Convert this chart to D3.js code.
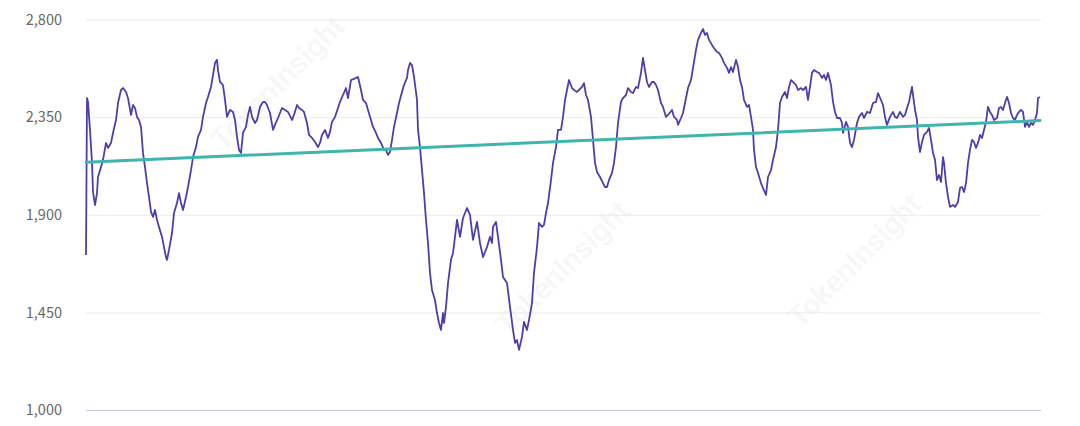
<!DOCTYPE html>
<html>
<head>
<meta charset="utf-8">
<script src="https://cdn.jsdelivr.net/npm/d3@7"></script>
<style>
  html, body { margin: 0; padding: 0; background: #fff; }
  svg { display: block; }
</style>
</head>
<body>
<svg id="chart" width="1080" height="426"></svg>
<script>
// ---- data ----
const days = [0,1,2,4,6,7,9,11,12,15,17,20,22,25,27,30,32,35,37,40,42,45,47,49,51,53,55,57,59,61,63,65,67,69,71,73,76,78,80,81,83,86,88,91,93,95,97,100,102,105,107,110,112,115,117,120,122,125,127,129,131,132,134,137,139,141,144,147,149,151,153,155,157,160,162,164,166,169,171,174,177,179,181,184,187,189,192,196,199,202,206,208,211,213,216,218,221,223,226,229,232,234,236,239,242,244,246,249,252,254,257,260,262,265,268,270,272,275,277,280,282,285,287,290,292,295,298,300,302,304,306,308,311,313,316,318,321,322,324,326,328,331,332,334,336,338,340,342,344,346,349,351,353,355,357,358,360,362,365,367,369,371,374,377,381,384,387,391,394,397,401,404,406,407,410,412,415,417,421,424,427,429,431,433,436,438,441,443,446,448,451,453,456,458,460,462,465,467,470,472,475,477,479,481,483,486,488,491,493,496,498,500,502,505,507,509,511,514,517,519,521,523,526,528,530,532,535,537,540,542,545,547,550,552,555,557,559,561,563,566,568,570,572,575,577,580,582,586,588,591,592,595,597,600,602,605,607,610,612,615,617,619,621,623,626,628,631,633,636,638,641,643,645,647,650,652,654,656,658,661,663,665,667,668,670,672,675,677,680,682,685,687,690,692,694,696,699,701,703,705,707,710,712,715,717,720,722,724,726,728,731,733,736,738,740,742,745,747,749,751,754,756,757,760,762,764,766,768,771,773,776,778,781,784,787,790,792,795,797,799,801,804,807,809,811,814,817,819,821,823,826,827,829,831,832,834,836,838,841,843,845,847,849,851,853,855,857,858,860,862,864,867,869,872,874,876,878,880,882,884,886,888,890,892,894,896,898,900,902,904,906,908,911,913,915,917,919,921,923,925,927,929,931,933,935,937,939,941,943,945,947,949,951,952,954];
const prices = [1715,2438,2420,2291,2139,2005,1945,2000,2074,2120,2153,2231,2208,2231,2277,2337,2415,2475,2484,2466,2438,2360,2406,2392,2351,2337,2305,2185,2120,2046,1982,1913,1890,1922,1876,1844,1798,1751,1705,1692,1738,1816,1908,1954,2000,1954,1922,1982,2028,2106,2166,2212,2259,2291,2351,2415,2443,2489,2544,2600,2614,2567,2512,2498,2429,2351,2383,2374,2337,2259,2199,2185,2277,2305,2360,2397,2351,2323,2337,2397,2420,2420,2406,2369,2291,2314,2346,2392,2383,2374,2337,2360,2406,2392,2383,2374,2323,2268,2254,2235,2212,2231,2268,2291,2254,2282,2328,2351,2392,2420,2452,2484,2438,2521,2526,2531,2535,2475,2429,2415,2383,2337,2305,2277,2254,2231,2199,2199,2176,2189,2245,2305,2369,2415,2466,2498,2531,2567,2600,2590,2535,2429,2291,2212,2106,2000,1876,1770,1632,1553,1507,1447,1401,1369,1447,1401,1475,1585,1692,1724,1798,1876,1798,1885,1931,1899,1784,1867,1770,1705,1751,1798,1770,1844,1867,1798,1692,1613,1585,1475,1369,1309,1323,1277,1337,1406,1369,1415,1493,1632,1751,1862,1844,1853,1908,1954,2060,2139,2212,2291,2291,2351,2429,2475,2521,2484,2475,2466,2475,2489,2507,2452,2429,2351,2245,2139,2097,2074,2046,2028,2028,2060,2093,2139,2212,2323,2420,2438,2452,2484,2466,2461,2489,2484,2554,2623,2567,2512,2489,2512,2512,2498,2475,2415,2397,2351,2360,2383,2351,2337,2314,2346,2369,2438,2484,2521,2577,2660,2706,2738,2756,2729,2738,2706,2683,2669,2650,2646,2623,2600,2577,2554,2581,2558,2614,2581,2521,2489,2429,2397,2406,2351,2291,2199,2120,2093,2046,2023,1991,2074,2106,2153,2212,2291,2415,2443,2466,2438,2489,2521,2512,2498,2475,2484,2475,2489,2429,2489,2554,2567,2558,2554,2531,2544,2521,2554,2498,2420,2374,2346,2346,2323,2277,2328,2305,2231,2212,2245,2323,2351,2369,2346,2374,2369,2415,2420,2461,2429,2406,2351,2314,2351,2374,2351,2346,2374,2351,2360,2392,2420,2489,2452,2383,2337,2259,2189,2235,2268,2282,2300,2245,2185,2153,2060,2083,2051,2166,2139,2046,1982,1936,1945,1936,1959,2023,2028,2005,2046,2139,2199,2245,2235,2208,2231,2268,2254,2291,2328,2397,2374,2360,2337,2346,2392,2397,2383,2415,2443,2415,2369,2346,2337,2360,2374,2383,2374,2305,2328,2305,2323,2314,2337,2369,2438,2443];
const trendValues = [2142, 2334];        // trend line at first and last day
const yTicks = [1000, 1450, 1900, 2350, 2800];
const watermarks = [
  {x: 285, y: 90}, {x: 570, y: 275}, {x: 862, y: 268}
];

// ---- layout ----
const W = 1080, H = 426;
const margin = {left: 86, right: 40, top: 19.5, bottom: 16};
const svg = d3.select("#chart");

const x = d3.scaleLinear()
  .domain([d3.min(days), d3.max(days)])
  .range([margin.left, W - margin.right]);
const y = d3.scaleLinear()
  .domain([1000, 2800])
  .range([H - margin.bottom, margin.top]);

// watermarks
const wm = svg.append("g").attr("class", "watermarks");
watermarks.forEach(p => {
  wm.append("text")
    .attr("transform", `translate(${p.x},${p.y}) rotate(-45)`)
    .attr("text-anchor", "middle")
    .attr("font-family", "Roboto, 'Noto Sans', sans-serif")
    .attr("font-weight", 700)
    .attr("font-size", 30)
    .attr("fill", "#000")
    .attr("fill-opacity", 0.045)
    .text("TokenInsight");
});

// grid + y axis labels
const yAxis = d3.axisLeft(y)
  .tickValues(yTicks)
  .tickSize(-(W - margin.right + 1 - margin.left))
  .tickPadding(24)
  .tickFormat(d3.format(","));
const gy = svg.append("g")
  .attr("transform", `translate(${margin.left},0)`)
  .call(yAxis);
gy.select(".domain").remove();
gy.selectAll(".tick line")
  .attr("stroke", d => d === 1000 ? "#c9c6de" : "#ebebeb")
  .attr("stroke-width", 1);
gy.selectAll(".tick text")
  .attr("fill", "#666")
  .attr("font-size", 14.5)
  .attr("font-family", "'Noto Sans CJK SC', 'Noto Sans', sans-serif");

// price line
const line = d3.line()
  .x((d, i) => x(days[i]))
  .y(d => y(d));
svg.append("path")
  .datum(prices)
  .attr("fill", "none")
  .attr("stroke", "#4c3fab")
  .attr("stroke-width", 1.8)
  .attr("stroke-linejoin", "round")
  .attr("d", line);

// trend line
svg.append("line")
  .attr("x1", x(days[0]))
  .attr("x2", x(days[days.length - 1]))
  .attr("y1", y(trendValues[0]))
  .attr("y2", y(trendValues[1]))
  .attr("stroke", "#3fb5ae")
  .attr("stroke-width", 3)
  .attr("stroke-linecap", "round");
</script>
</body>
</html>
